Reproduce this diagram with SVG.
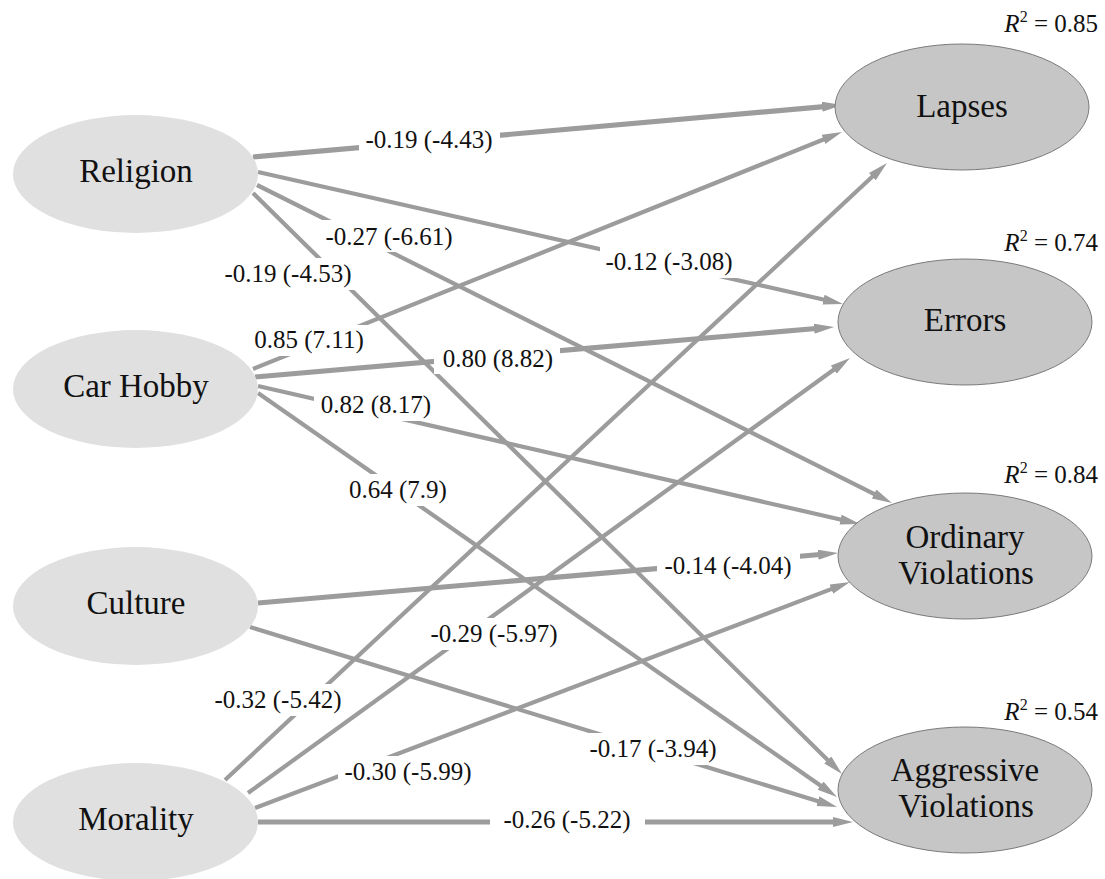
<svg xmlns="http://www.w3.org/2000/svg" width="1105" height="879" viewBox="0 0 1105 879">
<style>
.bg{fill:#ffffff}
.src{fill:#e0e0e0;stroke:none}
.dst{fill:#c6c6c6;stroke:#7a7a7a;stroke-width:1}
.nt{font-family:'Liberation Serif','DejaVu Serif',serif;font-size:33px;fill:#111;text-anchor:middle}
.e{stroke:#9c9c9c;stroke-width:4.2;fill:none;marker-end:url(#ah)}
.eh{stroke-width:5.2}
.lb{fill:#ffffff;stroke:none}
.lt{font-family:'Liberation Serif','DejaVu Serif',serif;font-size:25px;fill:#111;text-anchor:middle}
.r2{font-family:'Liberation Serif','DejaVu Serif',serif;font-size:25px;fill:#111;text-anchor:end}
</style>
<defs>
<marker id="ah" markerUnits="userSpaceOnUse" markerWidth="22" markerHeight="12" refX="2" refY="5" orient="auto">
<path d="M0,0 L20,5 L0,10 z" fill="#9c9c9c"/>
</marker>
</defs>
<rect class="bg" x="0" y="0" width="1105" height="879"/>

<g id="connectors">
<line class="e eh" x1="253" y1="157" x2="824.1" y2="106.6"/>
<line class="e" x1="258" y1="172" x2="825.4" y2="300.0"/>
<line class="e" x1="257" y1="185" x2="875.9" y2="494.9"/>
<line class="e" x1="253" y1="193" x2="829.2" y2="761.4"/>
<line class="e" x1="253" y1="369" x2="825.3" y2="138.7"/>
<line class="e eh" x1="255" y1="377" x2="816.1" y2="328.5"/>
<line class="e" x1="258" y1="386" x2="842.5" y2="520.0"/>
<line class="e" x1="258" y1="393" x2="822.2" y2="786.7"/>
<line class="e eh" x1="258" y1="603" x2="820.1" y2="554.5"/>
<line class="e" x1="250" y1="627" x2="819.8" y2="801.7"/>
<line class="e" x1="225" y1="780" x2="873.8" y2="175.3"/>
<line class="e" x1="248" y1="793" x2="835.4" y2="368.5"/>
<line class="e" x1="255" y1="808" x2="833.2" y2="588.4"/>
<line class="e eh" x1="258" y1="822" x2="835" y2="822"/>
</g>

<g id="edge-labels">
<rect class="lb" x="359" y="126" width="141" height="30"/>
<text class="lt" x="429" y="148">-0.19 (-4.43)</text>
<rect class="lb" x="600" y="246" width="138" height="32"/>
<text class="lt" x="669" y="270">-0.12 (-3.08)</text>
<rect class="lb" x="320" y="220" width="138" height="32"/>
<text class="lt" x="389" y="245">-0.27 (-6.61)</text>
<rect class="lb" x="218" y="258" width="137" height="32"/>
<text class="lt" x="288" y="282">-0.19 (-4.53)</text>
<rect class="lb" x="248" y="325" width="122" height="31"/>
<text class="lt" x="309" y="348">0.85 (7.11)</text>
<rect class="lb" x="434" y="344" width="126" height="30"/>
<text class="lt" x="498" y="367">0.80 (8.82)</text>
<rect class="lb" x="314" y="390" width="124" height="31"/>
<text class="lt" x="376" y="413">0.82 (8.17)</text>
<rect class="lb" x="343" y="474" width="110" height="32"/>
<text class="lt" x="398" y="498">0.64 (7.9)</text>
<rect class="lb" x="657" y="550" width="143" height="32"/>
<text class="lt" x="728" y="574">-0.14 (-4.04)</text>
<rect class="lb" x="583" y="733" width="140" height="32"/>
<text class="lt" x="653" y="757">-0.17 (-3.94)</text>
<rect class="lb" x="209" y="684" width="139" height="32"/>
<text class="lt" x="278" y="708">-0.32 (-5.42)</text>
<rect class="lb" x="425" y="618" width="138" height="32"/>
<text class="lt" x="494" y="642">-0.29 (-5.97)</text>
<rect class="lb" x="338" y="756" width="140" height="32"/>
<text class="lt" x="408" y="780">-0.30 (-5.99)</text>
<rect class="lb" x="490" y="805" width="155" height="31"/>
<text class="lt" x="567" y="828">-0.26 (-5.22)</text>
</g>

<g id="religion">
<ellipse class="src" cx="135.5" cy="174" rx="122.5" ry="59"/>
<text class="nt" x="136" y="182">Religion</text>
</g>
<g id="car-hobby">
<ellipse class="src" cx="135.5" cy="389" rx="122.5" ry="59"/>
<text class="nt" x="136" y="397">Car Hobby</text>
</g>
<g id="culture">
<ellipse class="src" cx="135.5" cy="606" rx="122.5" ry="59"/>
<text class="nt" x="136" y="614">Culture</text>
</g>
<g id="morality">
<ellipse class="src" cx="135.5" cy="822" rx="122.5" ry="59"/>
<text class="nt" x="136" y="830">Morality</text>
</g>

<g id="lapses">
<ellipse class="dst" cx="962" cy="107" rx="127" ry="63"/>
<text class="nt" x="962" y="117">Lapses</text>
<text class="r2" x="1098" y="32"><tspan font-style="italic">R</tspan><tspan font-size="16" dy="-10">2</tspan><tspan dy="10"> = 0.85</tspan></text>
</g>
<g id="errors">
<ellipse class="dst" cx="965" cy="322" rx="127" ry="63"/>
<text class="nt" x="965" y="331">Errors</text>
<text class="r2" x="1098" y="251"><tspan font-style="italic">R</tspan><tspan font-size="16" dy="-10">2</tspan><tspan dy="10"> = 0.74</tspan></text>
</g>
<g id="ordinary-violations">
<ellipse class="dst" cx="965" cy="556" rx="127" ry="63"/>
<text class="nt" x="965" y="548">Ordinary</text>
<text class="nt" x="966" y="584">Violations</text>
<text class="r2" x="1098" y="483"><tspan font-style="italic">R</tspan><tspan font-size="16" dy="-10">2</tspan><tspan dy="10"> = 0.84</tspan></text>
</g>
<g id="aggressive-violations">
<ellipse class="dst" cx="965" cy="790" rx="127" ry="63"/>
<text class="nt" x="965" y="781">Aggressive</text>
<text class="nt" x="966" y="817">Violations</text>
<text class="r2" x="1098" y="720"><tspan font-style="italic">R</tspan><tspan font-size="16" dy="-10">2</tspan><tspan dy="10"> = 0.54</tspan></text>
</g>
</svg>
